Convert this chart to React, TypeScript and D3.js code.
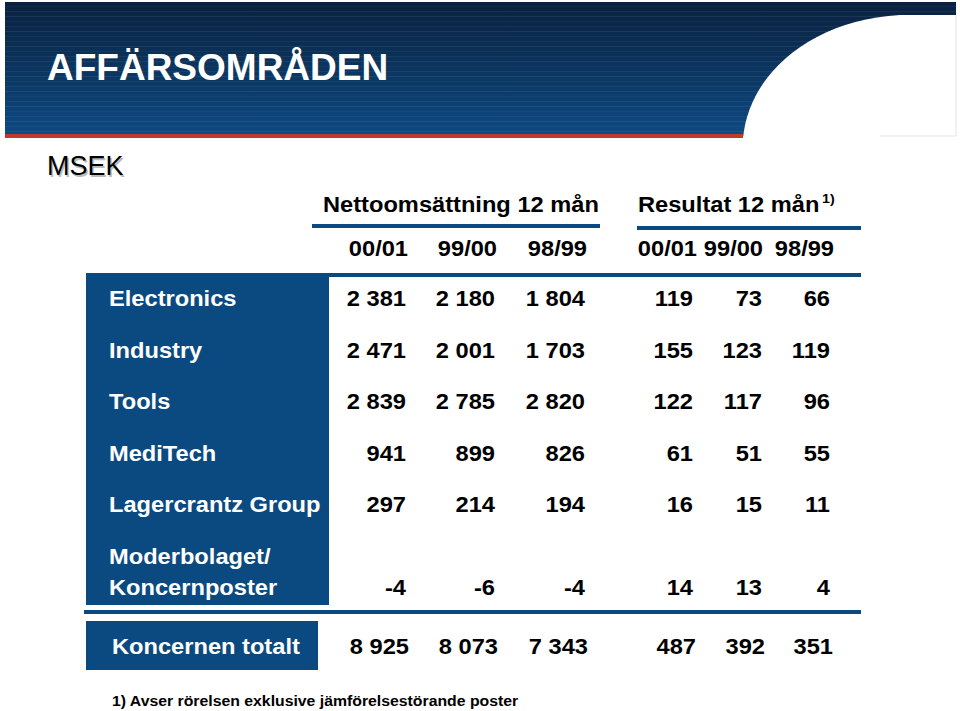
import React from "react";
import * as d3 from "d3";

const title = "AFFÄRSOMRÅDEN";
const unitLabel = "MSEK";
const groupHeaders = ["Nettoomsättning 12 mån", "Resultat 12 mån"];
const periods = ["00/01", "99/00", "98/99", "00/01", "99/00", "98/99"];
const segments = ["Electronics", "Industry", "Tools", "MediTech", "Lagercrantz Group", "Moderbolaget/\nKoncernposter"];
const netSales = [
  [2381, 2180, 1804],
  [2471, 2001, 1703],
  [2839, 2785, 2820],
  [941, 899, 826],
  [297, 214, 194],
  [-4, -6, -4],
];
const results = [
  [119, 73, 66],
  [155, 123, 119],
  [122, 117, 96],
  [61, 51, 55],
  [16, 15, 11],
  [14, 13, 4],
];
const totalLabel = "Koncernen totalt";
const totalNetSales = [8925, 8073, 7343];
const totalResults = [487, 392, 351];
const footnote = "1) Avser rörelsen exklusive jämförelsestörande poster";

const FONT = "'Liberation Sans', Arial, Helvetica, sans-serif";
const BLUE = "#0b4a80";
const fmt = (v: number) => d3.format(",")(v).replace(/,/g, " ").replace(/\u2212/g, "-");

// column right edges
const colRight = [406, 495, 585, 693, 762, 830];
const yearRight = [408, 497, 587, 697, 763, 834];

const rowY = d3.scalePoint<number>().domain(d3.range(5)).range([306, 512]);

function T({ x, y, anchor = "start", children, size = 21.5, fill = "#000", weight = "bold", sx = 1.1 }: any) {
  return (
    <text
      transform={`translate(${x},${y}) scale(${sx},1)`}
      textAnchor={anchor}
      fontFamily={FONT}
      fontSize={size}
      fontWeight={weight}
      fill={fill}
    >
      {children}
    </text>
  );
}

export default function App() {
  const stripes = d3.range(6, 134, 5);
  const rowBase = (i: number) => (i < 5 ? (rowY(i) as number) : 595);
  return (
    <svg width={960} height={711} style={{ position: "absolute", left: 0, top: 0, display: "block" }}>
      <defs>
        <linearGradient id="bannerGrad" x1="0" y1="0" x2="0" y2="1">
          <stop offset="0" stopColor="#0a2140" />
          <stop offset="0.4" stopColor="#0b3158" />
          <stop offset="1" stopColor="#0d4a84" />
        </linearGradient>
      </defs>
      <rect x={0} y={0} width={960} height={711} fill="#fff" />
      {/* banner */}
      <rect x={5} y={2} width={951} height={134} fill="url(#bannerGrad)" />
      {stripes.map((s, i) => (
        <rect key={i} x={5} y={s} width={951} height={1} fill="#ffffff" opacity={0.04 + (i % 3) * 0.015} />
      ))}
      <rect x={5} y={134} width={738} height={4} fill="#c0392b" />
      <path d="M743,139 C748,75 810,20 900,15 L957,15 L957,139 Z" fill="#fff" />
      <path d="M956,15 L956,136 L880,136" fill="none" stroke="#e4e4e4" strokeWidth={1} />
      <T x={47} y={80} size={37} fill="#fff" sx={1}>{title}</T>
      <text x={48.5} y={176.5} fontFamily={FONT} fontSize={27} fill="#bbb">{unitLabel}</text>
      <text x={47} y={175} fontFamily={FONT} fontSize={27} fill="#000">{unitLabel}</text>

      {/* headers */}
      <T x={323} y={212}>{groupHeaders[0]}</T>
      <T x={638} y={212}>{groupHeaders[1]}</T>
      <T x={822} y={203} size={13}>1)</T>
      <rect x={312} y={224} width={288} height={4} fill={BLUE} />
      <rect x={637} y={226} width={224} height={4} fill={BLUE} />
      {periods.map((p, i) => (
        <T key={i} x={yearRight[i]} y={256} anchor="end">{p}</T>
      ))}
      <rect x={86} y={273} width={775} height={4} fill={BLUE} />

      {/* label box */}
      <rect x={86} y={273} width={243} height={332} fill={BLUE} />
      {segments.map((s, i) => {
        const lines = s.split("\n");
        const base = rowBase(i);
        return lines.map((ln, j) => (
          <T key={i + "-" + j} x={109} y={base - (lines.length - 1 - j) * 31} fill="#fff">{ln}</T>
        ));
      })}
      {segments.map((_, i) =>
        [...netSales[i], ...results[i]].map((v, j) => (
          <T key={i + "v" + j} x={colRight[j]} y={rowBase(i)} anchor="end">{fmt(v)}</T>
        ))
      )}
      <rect x={84} y={610} width={777} height={4} fill={BLUE} />

      {/* total */}
      <rect x={86} y={621} width={232} height={49} fill={BLUE} />
      <T x={112} y={654} fill="#fff">{totalLabel}</T>
      {[...totalNetSales, ...totalResults].map((v, j) => (
        <T key={"t" + j} x={colRight[j] + 3} y={654} anchor="end">{fmt(v)}</T>
      ))}

      <T x={112} y={706} size={15.5} sx={1.02}>{footnote}</T>
    </svg>
  );
}
